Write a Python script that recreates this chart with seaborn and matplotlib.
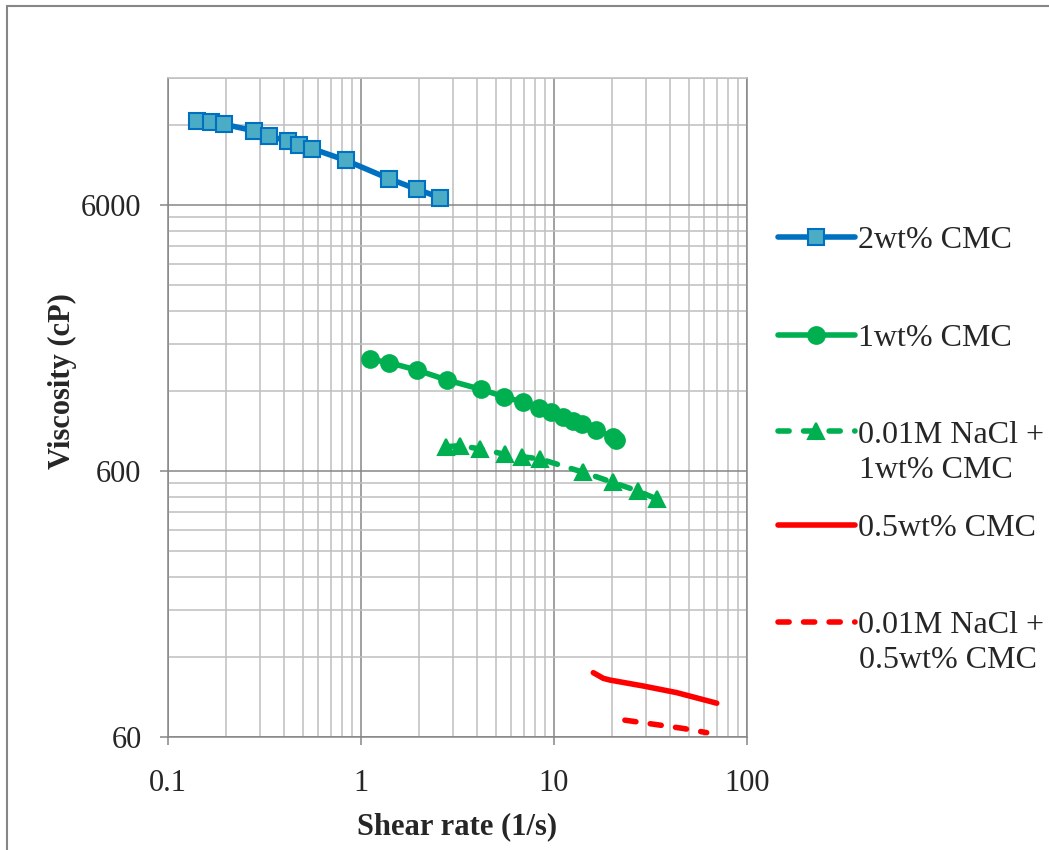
import numpy as np
import pandas as pd
import matplotlib
matplotlib.use("Agg")
import matplotlib.pyplot as plt
import seaborn as sns
from matplotlib.lines import Line2D
from matplotlib.patches import Rectangle
from matplotlib.ticker import FixedLocator, FixedFormatter, NullFormatter

# ---- data ----
x_2wt = [0.141, 0.167, 0.195, 0.280, 0.334, 0.417, 0.476, 0.557, 0.836, 1.39, 1.94, 2.57]
y_2wt = [12420, 12285, 12060, 11390, 10900, 10420, 10110, 9770, 8820, 7540, 6880, 6390]

x_1wt = [1.11, 1.40, 1.96, 2.79, 4.19, 5.53, 6.93, 8.36, 9.68, 11.2, 12.5, 14.0, 16.6, 20.3, 20.9]
y_1wt = [1578, 1532, 1435, 1318, 1216, 1140, 1087, 1037, 997, 955, 927, 899, 855, 804, 785]

x_nacl1 = [2.76, 3.26, 4.14, 5.57, 6.80, 8.46, 14.2, 20.1, 27.3, 34.0]
y_nacl1 = [740, 747, 726, 693, 679, 666, 593, 544, 504, 471]

x_05 = [15.98, 18.0, 19.5, 29.0, 43.2, 69.7]
y_05 = [104.7, 99.7, 98.2, 93.3, 88.1, 80.4]

x_nacl05 = [23.3, 35.4, 46.8, 61.8]
y_nacl05 = [69.4, 66.5, 64.6, 62.3]

labels = ["2wt% CMC", "1wt% CMC", "0.01M NaCl +\n1wt% CMC", "0.5wt% CMC", "0.01M NaCl +\n0.5wt% CMC"]
x_ticks = [0.1, 1, 10, 100]
x_ticklabels = ["0.1", "1", "10", "100"]
y_ticks = [60, 600, 6000]
y_ticklabels = ["60", "600", "6000"]

# ---- style ----
sns.set_style("white")
plt.rcParams["font.family"] = ["Liberation Serif", "DejaVu Serif"]

BLUE = "#0070C0"
BLUE_FACE = "#4BACC6"
GREEN = "#00B050"
RED = "#FF0000"
MINOR = "#BFBFBF"
MAJOR = "#868686"

fig = plt.figure(figsize=(10.49, 8.5), dpi=100)
ax = fig.add_axes([168/1049, 1-737/850, (747-168)/1049, (737-78)/850])

LW = 4.0
dash = (0, (2.0, 2.6))

series = [
    dict(x=x_2wt, y=y_2wt, color=BLUE, marker="s", ms=11, mfc=BLUE_FACE, mec=BLUE, ls="-"),
    dict(x=x_1wt, y=y_1wt, color=GREEN, marker="o", ms=12, mfc=GREEN, mec=GREEN, ls="-"),
    dict(x=x_nacl1, y=y_nacl1, color=GREEN, marker="^", ms=11, mfc=GREEN, mec=GREEN, ls=dash),
    dict(x=x_05, y=y_05, color=RED, marker=None, ms=0, mfc=RED, mec=RED, ls="-"),
    dict(x=x_nacl05, y=y_nacl05, color=RED, marker=None, ms=0, mfc=RED, mec=RED, ls=dash),
]

handles = []
for s, lab in zip(series, labels):
    df = pd.DataFrame({"x": s["x"], "y": s["y"]})
    kw = dict(color=s["color"], linewidth=LW, linestyle=s["ls"], sort=False,
              estimator=None, ax=ax, legend=False, zorder=3)
    if s["marker"]:
        kw.update(marker=s["marker"], markersize=s["ms"], markerfacecolor=s["mfc"],
                  markeredgecolor=s["mec"], markeredgewidth=1.5)
    sns.lineplot(data=df, x="x", y="y", **kw)
    line = ax.lines[-1]
    line.set_dash_capstyle("round")
    line.set_solid_capstyle("round")
    line.set_solid_joinstyle("round")
    h = Line2D([], [], color=s["color"], linewidth=LW, linestyle=s["ls"],
               marker=s["marker"] if s["marker"] else None,
               markersize=s["ms"], markerfacecolor=s["mfc"], markeredgecolor=s["mec"],
               markeredgewidth=1.5, dash_capstyle="round", solid_capstyle="round")
    handles.append(h)

ax.set_xscale("log")
ax.set_yscale("log")
ax.set_xlim(0.1, 100)
ax.set_ylim(60, 18000)

ax.xaxis.set_major_locator(FixedLocator(x_ticks))
ax.xaxis.set_major_formatter(FixedFormatter(x_ticklabels))
ax.xaxis.set_minor_locator(FixedLocator([k * 10.0**d for d in (-1, 0, 1) for k in range(2, 10)]))
ax.xaxis.set_minor_formatter(NullFormatter())
ax.yaxis.set_major_locator(FixedLocator(y_ticks))
ax.yaxis.set_major_formatter(FixedFormatter(y_ticklabels))
ax.yaxis.set_minor_locator(FixedLocator([k * 60 * 10.0**d for d in (0, 1, 2) for k in range(2, 10)]))
ax.yaxis.set_minor_formatter(NullFormatter())

ax.grid(True, which="minor", color=MINOR, linewidth=1.1, zorder=0)
ax.grid(True, which="major", color=MAJOR, linewidth=1.1, zorder=1)
ax.set_axisbelow(True)

ax.tick_params(axis="both", which="major", direction="out", length=6, width=1.1,
               color=MAJOR, labelsize=22, pad=13, left=True, bottom=True)
ax.tick_params(axis="x", which="major", pad=17)
ax.tick_params(axis="both", which="minor", length=0)

for side in ("left", "bottom", "right"):
    ax.spines[side].set_color(MAJOR)
    ax.spines[side].set_linewidth(1.1)
ax.spines["top"].set_color(MINOR)
ax.spines["top"].set_linewidth(1.1)

ax.set_xlabel("Shear rate (1/s)", fontsize=22, fontweight="bold", labelpad=10)
ax.set_ylabel("Viscosity (cP)", fontsize=22, fontweight="bold")
ax.yaxis.set_label_coords(-0.158, 0.54)

# legend entries placed individually (Excel-like spacing); for two-line
# entries the marker sits on the first line, the second line follows below
entry_y = [240, 338, 435, 528, 625]
for h, lab, cy in zip(handles, labels, entry_y):
    parts = lab.split("\n")
    fig.legend(handles=[h], labels=[parts[0]], loc="center left",
               bbox_to_anchor=(778/1049, 1 - cy/850), frameon=False,
               fontsize=23, handlelength=2.4, handletextpad=0.12,
               borderpad=0, borderaxespad=0)
    if len(parts) > 1:
        fig.text(859/1049, 1 - (cy + 35)/850, parts[1], fontsize=23,
                 ha="left", va="center")

# outer chart border
fig.patches.append(Rectangle((7/1049, -0.05), 1.2, 1 - 6/850 + 0.05,
                             transform=fig.transFigure, fill=False,
                             edgecolor="#868686", linewidth=1.5))

fig.savefig("out.png", dpi=100)
